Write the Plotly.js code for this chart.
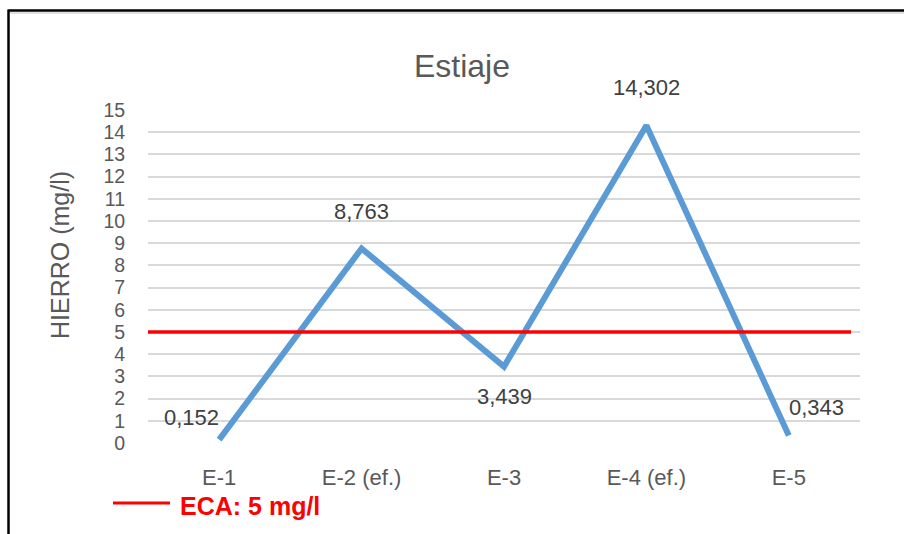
<!DOCTYPE html>
<html>
<head>
<meta charset="utf-8">
<script src="https://cdn.plot.ly/plotly-3.0.1.min.js"></script>
<style>
  html, body { margin: 0; padding: 0; background: #ffffff; }
  #chart { width: 904px; height: 534px; }
</style>
</head>
<body>
<div id="chart"></div>
<script>
// Sampling points and measured iron concentration (mg/l), dry season
const categories = ['E-1', 'E-2 (ef.)', 'E-3', 'E-4 (ef.)', 'E-5'];
const hierro = [0.152, 8.763, 3.439, 14.302, 0.343];
// Environmental quality standard (ECA) limit, mg/l
const ecaLimit = 5;
const yTickValues = [0, 1, 2, 3, 4, 5, 6, 7, 8, 9, 10, 11, 12, 13, 14, 15];

// Canvas geometry
const W = 904, H = 534;
const M = { l: 148, r: 44, t: 110, b: 91 };
const plotW = W - M.l - M.r;
const plotH = H - M.t - M.b;
const px2x = (px) => (px - M.l) / plotW;          // pixel x -> paper x
const px2y = (py) => (H - M.b - py) / plotH;      // pixel y -> paper y

// Label offsets (pixels) for each value label, in point order
const labelShifts = [
  { dx: -28, dy: 22 },
  { dx: 0, dy: 37 },
  { dx: 0, dy: -30 },
  { dx: 0, dy: 38 },
  { dx: 28, dy: 28 }
];

const fmt = (v) => v.toFixed(3).replace('.', ',');
const FONT = 'Liberation Sans, Arial, sans-serif';

const traces = [{
  type: 'scatter',
  mode: 'lines',
  x: categories,
  y: hierro,
  line: { color: '#5B9BD5', width: 6 },
  cliponaxis: false,
  hoverinfo: 'x+y',
  showlegend: false
}];

const valueLabels = hierro.map((v, i) => ({
  x: categories[i],
  y: v,
  xref: 'x',
  yref: 'y',
  text: fmt(v),
  showarrow: false,
  xanchor: 'center',
  yanchor: 'middle',
  xshift: labelShifts[i].dx,
  yshift: labelShifts[i].dy,
  font: { family: FONT, size: 22, color: '#404040' }
}));

const annotations = valueLabels.concat([
  {
    // vertical axis title
    xref: 'paper', yref: 'paper',
    x: px2x(60), y: px2y(255),
    text: 'HIERRO (mg/l)',
    textangle: -90,
    showarrow: false,
    xanchor: 'center', yanchor: 'middle',
    font: { family: FONT, size: 25, color: '#595959' }
  },
  {
    // legend text for the ECA limit
    xref: 'paper', yref: 'paper',
    x: px2x(178), y: px2y(506),
    text: '<b>ECA: ' + ecaLimit + ' mg/l</b>',
    showarrow: false,
    xanchor: 'left', yanchor: 'middle',
    font: { family: FONT, size: 25, color: '#FF0000' }
  }
]);

const shapes = [
  // ECA limit line
  {
    type: 'line', xref: 'paper', yref: 'y',
    x0: 0, x1: px2x(851), y0: ecaLimit, y1: ecaLimit,
    line: { color: '#FF0000', width: 3.5 }
  },
  // legend swatch
  {
    type: 'line', xref: 'paper', yref: 'paper',
    x0: px2x(113), x1: px2x(170), y0: px2y(503), y1: px2y(503),
    line: { color: '#FF0000', width: 3 }
  },
  // chart frame: faint shadow, then top and left borders
  {
    type: 'line', xref: 'paper', yref: 'paper',
    x0: px2x(10), x1: px2x(W + 5), y0: px2y(13), y1: px2y(13),
    line: { color: '#d6d6d6', width: 1.5 }
  },
  {
    type: 'line', xref: 'paper', yref: 'paper',
    x0: px2x(8.5), x1: px2x(W + 5), y0: px2y(10.5), y1: px2y(10.5),
    line: { color: '#000000', width: 2.5 }
  },
  {
    type: 'line', xref: 'paper', yref: 'paper',
    x0: px2x(8.5), x1: px2x(8.5), y0: px2y(9.5), y1: px2y(H + 5),
    line: { color: '#000000', width: 2.5 }
  }
];

const layout = {
  width: W,
  height: H,
  margin: M,
  paper_bgcolor: '#ffffff',
  plot_bgcolor: '#ffffff',
  showlegend: false,
  title: {
    text: 'Estiaje',
    font: { family: FONT, size: 32, color: '#595959' },
    xref: 'paper', x: px2x(462), xanchor: 'center',
    yref: 'container', y: 1 - 66 / H, yanchor: 'middle'
  },
  xaxis: {
    type: 'category',
    range: [-0.5, categories.length - 0.5],
    showgrid: false,
    zeroline: false,
    showline: false,
    ticks: 'outside',
    ticklen: 15,
    tickcolor: 'rgba(0,0,0,0)',
    tickfont: { family: FONT, size: 22, color: '#595959' },
    fixedrange: true
  },
  yaxis: {
    range: [0, 15],
    tickvals: yTickValues,
    ticktext: yTickValues.map(String),
    showgrid: true,
    gridcolor: '#d9d9d9',
    gridwidth: 2,
    zeroline: false,
    showline: false,
    ticks: 'outside',
    ticklen: 18,
    tickcolor: 'rgba(0,0,0,0)',
    tickfont: { family: FONT, size: 19.5, color: '#595959' },
    fixedrange: true
  },
  shapes: shapes,
  annotations: annotations
};

Plotly.newPlot('chart', traces, layout, { displayModeBar: false, staticPlot: true });
</script>
</body>
</html>
